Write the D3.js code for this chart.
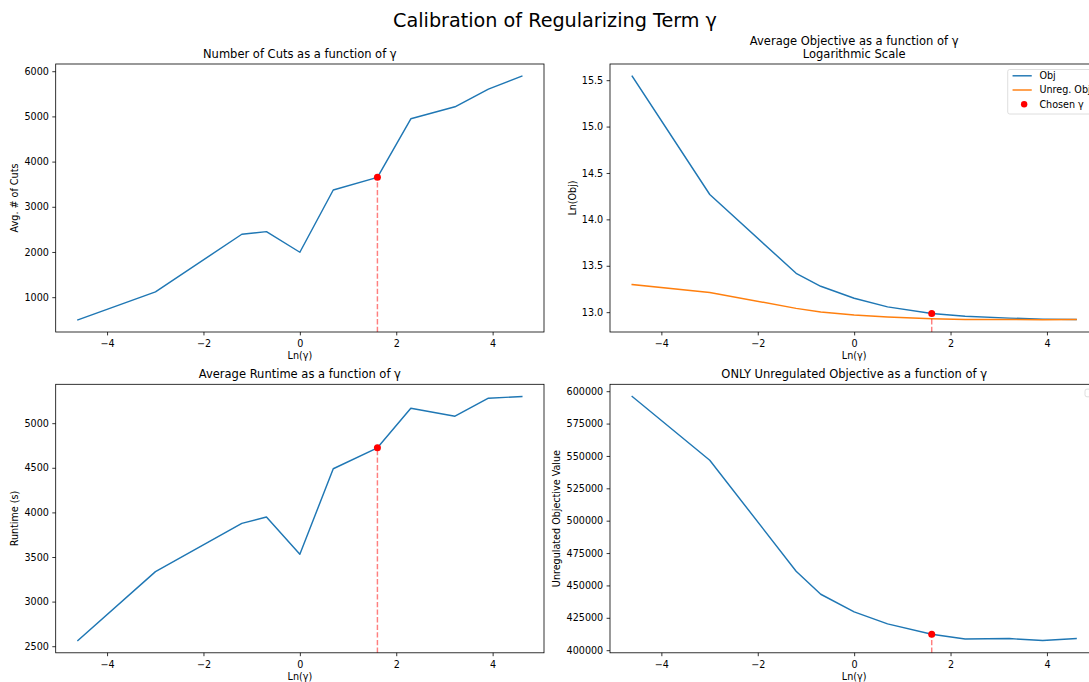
<!DOCTYPE html>
<html>
<head>
<meta charset="utf-8">
<script src="https://cdn.jsdelivr.net/npm/d3@7"></script>
<style>
  html, body { margin: 0; padding: 0; background: #fff; overflow: hidden; }
  svg text { font-family: "DejaVu Sans", sans-serif; fill: #000; }
</style>
</head>
<body>
<svg id="fig" width="1089" height="682"></svg>
<script>
// gamma grid and its natural log (x axis of every panel)
const gammas = [0.01, 0.05, 0.3, 0.5, 1, 2, 5, 10, 25, 50, 100];
const lnGamma = gammas.map(Math.log);
const chosenGamma = 5;

// measured series
const avgCuts    = [499, 1118, 2392, 2451, 1994, 3371, 3651, 4947, 5212, 5602, 5890];
const avgRuntime = [2563, 3336, 3877, 3948, 3530, 4489, 4724, 5168, 5078, 5280, 5299];
const lnObj      = [15.543, 14.268, 13.419, 13.279, 13.150, 13.057, 12.986, 12.957, 12.936, 12.925, 12.921];
const unregObj   = [595900, 546700, 460970, 443200, 429560, 420290, 412300, 408700, 408960, 407400, 409000];
const lnUnregObj = unregObj.map(Math.log);

// tick labels
const xTicks       = [-4, -2, 0, 2, 4];
const cutsTicks    = [1000, 2000, 3000, 4000, 5000, 6000];
const lnObjTicks   = [13.0, 13.5, 14.0, 14.5, 15.0, 15.5];
const runtimeTicks = [2500, 3000, 3500, 4000, 4500, 5000];
const unregTicks   = [400000, 425000, 450000, 475000, 500000, 525000, 550000, 575000, 600000];

const BLUE = "#1f77b4", ORANGE = "#ff7f0e";
const FS = 9.6;           // tick / label font size
const TITLE_FS = 11.5;
const svg = d3.select("#fig");

const chosenIdx = gammas.indexOf(chosenGamma);

function padded(ext) {
  const r = ext[1] - ext[0];
  return [ext[0] - 0.05 * r, ext[1] + 0.05 * r];
}

function panel(o) {
  const { x0, x1, y0, y1 } = o.box;
  const g = svg.append("g");
  const x = d3.scaleLinear().domain(padded(d3.extent(lnGamma))).range([x0, x1]);
  const allY = o.series.flatMap(s => s.values);
  const y = d3.scaleLinear().domain(padded(d3.extent(allY))).range([y1, y0]);

  const plot = g.append("g");
  const line = vals => d3.line().x((d, i) => x(lnGamma[i])).y(d => y(d))(vals);

  o.series.forEach(s => {
    plot.append("path")
      .attr("d", line(s.values))
      .attr("fill", "none")
      .attr("stroke", s.color)
      .attr("stroke-width", 1.45)
      .attr("stroke-linejoin", "round")
      .attr("stroke-linecap", "square");
  });

  // chosen gamma marker: dashed drop line + dot
  const cx = x(lnGamma[chosenIdx]);
  const cy = y(o.series[o.markOn].values[chosenIdx]);
  plot.append("line")
    .attr("x1", cx).attr("x2", cx)
    .attr("y1", y1).attr("y2", cy)
    .attr("stroke", "rgba(255,0,0,0.5)")
    .attr("stroke-width", 1.45)
    .attr("stroke-dasharray", "5.3,2.3");
  plot.append("circle")
    .attr("cx", cx).attr("cy", cy).attr("r", 3.5)
    .attr("fill", "#ff0000");

  // axes
  const xa = g.append("g").attr("transform", `translate(0,${y1})`)
    .call(d3.axisBottom(x).tickValues(xTicks).tickSize(3.4).tickPadding(4.6)
      .tickFormat(d3.format("d")));
  const ya = g.append("g").attr("transform", `translate(${x0},0)`)
    .call(d3.axisLeft(y).tickValues(o.yTicks).tickSize(3.4).tickPadding(3.4)
      .tickFormat(o.yFormat));
  [xa, ya].forEach(a => {
    a.select(".domain").remove();
    a.selectAll(".tick line").attr("stroke", "#000").attr("stroke-width", 0.8);
    a.selectAll(".tick text").attr("font-size", FS)
      .style("font-family", '"DejaVu Sans", sans-serif').attr("fill", "#000");
  });

  // spines
  g.append("rect")
    .attr("x", x0).attr("y", y0)
    .attr("width", x1 - x0).attr("height", y1 - y0)
    .attr("fill", "none").attr("stroke", "#000").attr("stroke-width", 0.8);

  // x label
  g.append("text")
    .attr("x", (x0 + x1) / 2).attr("y", y1 + 27.2)
    .attr("text-anchor", "middle").attr("font-size", FS)
    .text("Ln(γ)");

  // y label placed left of the widest tick label
  let maxW = 0;
  ya.selectAll(".tick text").each(function () {
    maxW = Math.max(maxW, this.getComputedTextLength());
  });
  const lx = x0 - 6.8 - maxW - 3.84 - 2.3;
  g.append("text")
    .attr("transform", `translate(${lx},${(y0 + y1) / 2}) rotate(-90)`)
    .attr("text-anchor", "middle").attr("font-size", FS)
    .text(o.ylabel);

  // title (one or more lines, last line sits just above the axes)
  const lines = o.title;
  lines.forEach((t, i) => {
    g.append("text")
      .attr("x", (x0 + x1) / 2)
      .attr("y", y0 - 6.0 - (lines.length - 1 - i) * 13.2)
      .attr("text-anchor", "middle").attr("font-size", TITLE_FS)
      .text(t);
  });

  return { g, x, y };
}

// figure title
svg.append("text")
  .attr("x", 555).attr("y", 27)
  .attr("text-anchor", "middle").attr("font-size", 19.2)
  .text("Calibration of Regularizing Term γ");

const L = { x0: 55.7, x1: 544 };
const R = { x0: 610, x1: 1098.3 };
const T = { y0: 64, y1: 332 };
const B = { y0: 384.3, y1: 652.8 };

panel({
  box: { ...L, ...T },
  series: [{ values: avgCuts, color: BLUE }],
  markOn: 0,
  yTicks: cutsTicks, yFormat: d3.format("d"),
  ylabel: "Avg. # of Cuts",
  title: ["Number of Cuts as a function of γ"]
});

panel({
  box: { ...R, ...T },
  series: [{ values: lnObj, color: BLUE, label: "Obj" },
           { values: lnUnregObj, color: ORANGE, label: "Unreg. Obj" }],
  markOn: 0,
  yTicks: lnObjTicks, yFormat: d3.format(".1f"),
  ylabel: "Ln(Obj)",
  title: ["Average Objective as a function of γ", "Logarithmic Scale"]
});

panel({
  box: { ...L, ...B },
  series: [{ values: avgRuntime, color: BLUE }],
  markOn: 0,
  yTicks: runtimeTicks, yFormat: d3.format("d"),
  ylabel: "Runtime (s)",
  title: ["Average Runtime as a function of γ"]
});

panel({
  box: { ...R, ...B },
  series: [{ values: unregObj, color: BLUE }],
  markOn: 0,
  yTicks: unregTicks, yFormat: d3.format("d"),
  ylabel: "Unregulated Objective Value",
  title: ["ONLY Unregulated Objective as a function of γ"]
});

// legend of the log-scale panel
(function legend() {
  const items = [
    { type: "line", color: BLUE, label: "Obj" },
    { type: "line", color: ORANGE, label: "Unreg. Obj" },
    { type: "dot", color: "#ff0000", label: "Chosen γ" }
  ];
  const lg = svg.append("g");
  const box = lg.append("rect");
  const texts = [];
  const handleLen = 2 * FS, pad = 0.4 * FS, textPad = 0.8 * FS;
  const top = T.y0 + 5.5, rowH = 14.2;
  items.forEach((it) => {
    const t = lg.append("text").attr("font-size", FS).attr("dy", "0.35em").text(it.label);
    texts.push(t);
  });
  const maxW = d3.max(texts, t => t.node().getComputedTextLength());
  const w = pad + handleLen + textPad + maxW + pad;
  const right = R.x1 - 0.5 * FS;
  const left = right - w;
  box.attr("x", left).attr("y", top).attr("width", w).attr("height", 44.5)
    .attr("rx", 2).attr("fill", "rgba(255,255,255,0.8)")
    .attr("stroke", "#d6d6d6").attr("stroke-width", 0.8);
  items.forEach((it, i) => {
    const cy = top + 6.3 + i * rowH;
    const hx = left + pad + 1;
    if (it.type === "line") {
      lg.append("line").attr("x1", hx).attr("x2", hx + handleLen)
        .attr("y1", cy).attr("y2", cy)
        .attr("stroke", it.color).attr("stroke-width", 1.45);
    } else {
      lg.append("circle").attr("cx", hx + handleLen / 2 + 2).attr("cy", cy).attr("r", 3.2)
        .attr("fill", it.color);
    }
    texts[i].attr("x", hx + handleLen + textPad).attr("y", cy);
  });
})();

// empty legend frame in the last panel
svg.append("rect")
  .attr("x", R.x1 - 0.5 * FS - 8.5).attr("y", B.y0 + 4.8)
  .attr("width", 8.5).attr("height", 7.7).attr("rx", 2)
  .attr("fill", "rgba(255,255,255,0.8)")
  .attr("stroke", "#d6d6d6").attr("stroke-width", 0.8);
</script>
</body>
</html>
